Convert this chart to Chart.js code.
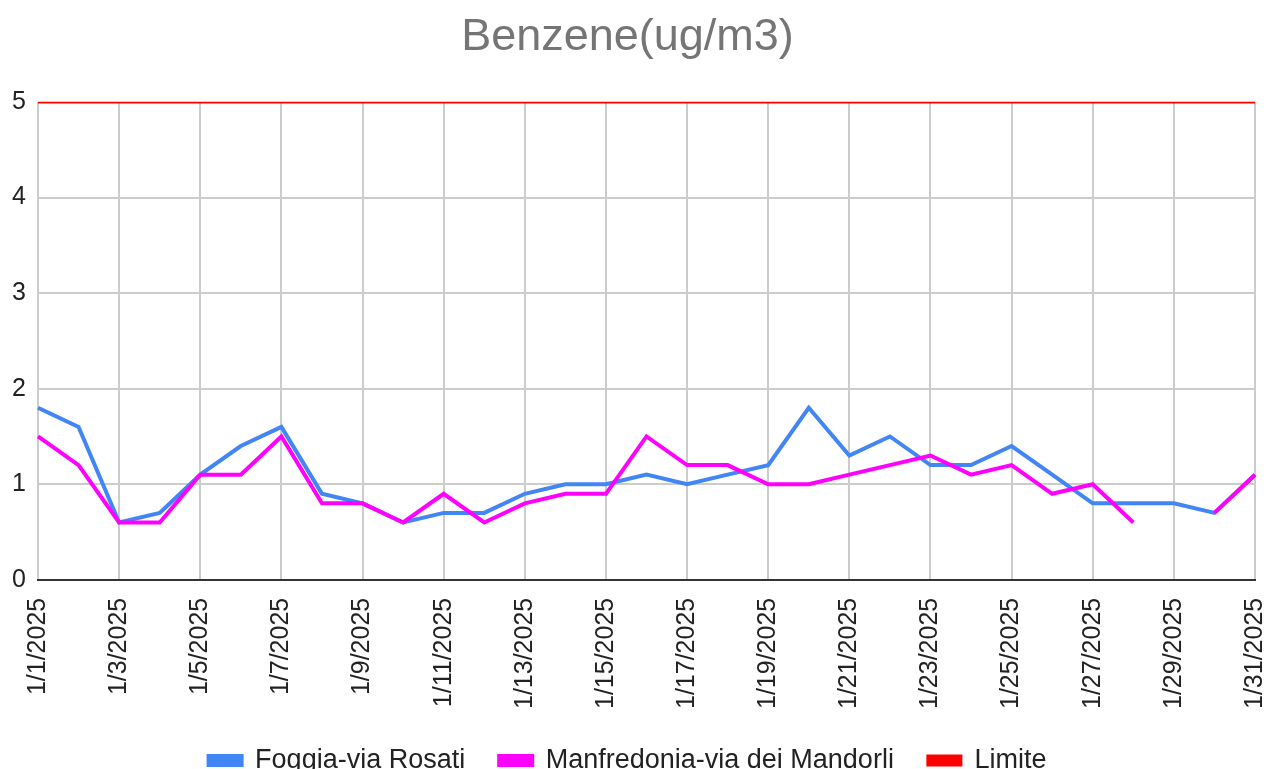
<!DOCTYPE html>
<html>
<head>
<meta charset="utf-8">
<title>Benzene(ug/m3)</title>
<script src="https://cdn.jsdelivr.net/npm/chart.js@4/dist/chart.umd.min.js"></script>
<style>
  html, body { margin: 0; padding: 0; background: #fff; overflow: hidden; }
  #wrap { width: 1266px; height: 769px; overflow: hidden; }
</style>
</head>
<body>
<div id="wrap"><canvas id="chart" width="1266" height="784"></canvas></div>
<script>
const days = [
  "1/1/2025", "1/2/2025", "1/3/2025", "1/4/2025", "1/5/2025", "1/6/2025", "1/7/2025", "1/8/2025",
  "1/9/2025", "1/10/2025", "1/11/2025", "1/12/2025", "1/13/2025", "1/14/2025", "1/15/2025", "1/16/2025",
  "1/17/2025", "1/18/2025", "1/19/2025", "1/20/2025", "1/21/2025", "1/22/2025", "1/23/2025", "1/24/2025",
  "1/25/2025", "1/26/2025", "1/27/2025", "1/28/2025", "1/29/2025", "1/30/2025", "1/31/2025"
];

const foggia = [
  1.8, 1.6, 0.6, 0.7, 1.1, 1.4, 1.6, 0.9, 0.8, 0.6, 0.7, 0.7, 0.9, 1.0, 1.0, 1.1,
  1.0, 1.1, 1.2, 1.8, 1.3, 1.5, 1.2, 1.2, 1.4, 1.1, 0.8, 0.8, 0.8, 0.7, 1.1
];

const manfredonia = [
  1.5, 1.2, 0.6, 0.6, 1.1, 1.1, 1.5, 0.8, 0.8, 0.6, 0.9, 0.6, 0.8, 0.9, 0.9, 1.5,
  1.2, 1.2, 1.0, 1.0, 1.1, 1.2, 1.3, 1.1, 1.2, 0.9, 1.0, 0.6, null, 0.7, 1.1
];

const limite = days.map(() => 5);

const yTicks = [0, 1, 2, 3, 4, 5];

const FONT = "\"Liberation Sans\", Arial, sans-serif";

new Chart(document.getElementById("chart"), {
  type: "line",
  data: {
    labels: days,
    datasets: [
      {
        label: "Foggia-via Rosati",
        data: foggia,
        borderColor: "#4285f4",
        backgroundColor: "#4285f4",
        borderWidth: 4,
        order: 2
      },
      {
        label: "Manfredonia-via dei Mandorli",
        data: manfredonia,
        borderColor: "#ff00ff",
        backgroundColor: "#ff00ff",
        borderWidth: 4,
        order: 1
      },
      {
        label: "Limite",
        data: limite,
        borderColor: "#ff0000",
        backgroundColor: "#ff0000",
        borderWidth: 3,
        order: 0
      }
    ]
  },
  options: {
    responsive: false,
    animation: false,
    devicePixelRatio: 1,
    elements: {
      point: { radius: 0, hoverRadius: 0 },
      line: { tension: 0 }
    },
    spanGaps: false,
    layout: { padding: { left: 0, right: 11, top: 0, bottom: 0 } },
    plugins: {
      title: {
        display: true,
        text: "Benzene(ug/m3)",
        color: "#757575",
        font: { family: FONT, size: 45, weight: "normal" },
        padding: { top: 11, bottom: 37 }
      },
      legend: {
        position: "bottom",
        labels: {
          color: "#222222",
          boxWidth: 33,
          boxHeight: 9,
          padding: 34,
          font: { family: FONT, size: 27 },
          sort: (a, b) => a.datasetIndex - b.datasetIndex
        }
      },
      tooltip: { enabled: false }
    },
    scales: {
      x: {
        type: "category",
        offset: false,
        afterFit: (scale) => {
          scale.paddingLeft = 0;
          scale.paddingRight = 0;
          scale.height -= 14;
        },
        grid: { color: "#cccccc", lineWidth: 2, drawTicks: false },
        border: { color: "#333333", width: 2 },
        ticks: {
          autoSkip: false,
          maxRotation: 90,
          minRotation: 90,
          padding: 18,
          color: "#222222",
          font: { family: FONT, size: 25 },
          callback: (value, index) => (index % 2 === 0 ? days[index] : null)
        }
      },
      y: {
        min: yTicks[0],
        max: yTicks[yTicks.length - 1],
        afterBuildTicks: (scale) => {
          scale.ticks = yTicks.map((v) => ({ value: v }));
        },
        afterFit: (scale) => {
          scale.width = 38;
        },
        grid: { color: "#cccccc", lineWidth: 2, drawTicks: false },
        border: { display: false },
        ticks: {
          padding: 12,
          color: "#222222",
          font: { family: FONT, size: 25 }
        }
      }
    }
  }
});
</script>
</body>
</html>
